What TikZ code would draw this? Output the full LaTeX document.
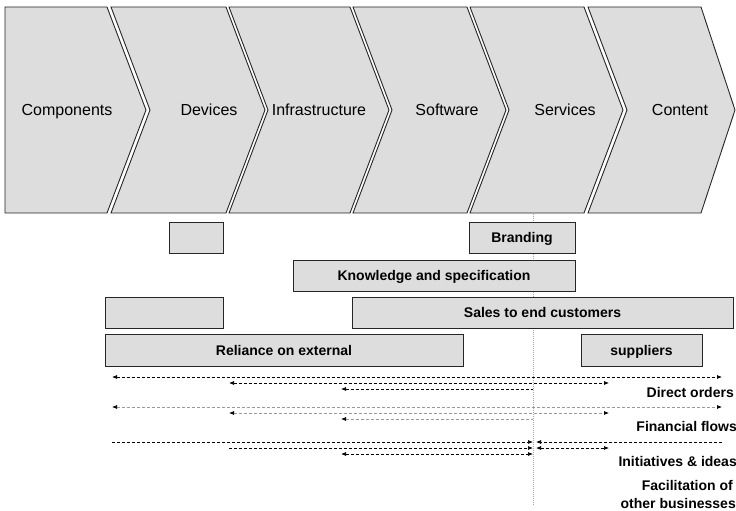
\documentclass[tikz,border=0pt]{standalone}
\usepackage{fontspec}
\setmainfont{Liberation Sans}
\usetikzlibrary{arrows.meta}
\definecolor{panel}{HTML}{DDDDDD}
\begin{document}
\begin{tikzpicture}[x=1pt,y=-1pt,
  chev/.style={fill=panel,draw=black!85,line width=0.9pt,line join=miter},
  chevtext/.style={font=\fontsize{16}{19}\selectfont,anchor=base,inner sep=0pt},
  bar/.style={fill=panel,draw=black!85,line width=1pt,
    font=\bfseries\fontsize{14}{17}\selectfont,
    text height=10pt,text depth=0pt,inner sep=0pt},
  flow/.style={line width=0.7pt,dash pattern=on 3pt off 2pt},
  lbl/.style={font=\bfseries\fontsize{14}{17}\selectfont,anchor=base east,inner sep=0pt},
  >={Latex[length=5pt,width=4pt,color=black]}
]
\useasboundingbox (0,0) rectangle (736,511);

% value chain chevrons
\draw[chev] (5,7) -- (107,7) -- (146,110) -- (107,213) -- (5,213) -- cycle;
\foreach \l/\r/\d in {111/226/39, 229/350/39, 353/467/39, 470/584/39, 588/701/34}
  \draw[chev] (\l,7) -- (\r,7) -- (\r+\d,110) -- (\r,213) -- (\l,213) -- (\l+39,110) -- cycle;

\node[chevtext] (comp)  at (67,115)  {Components};
\node[chevtext] (dev)   at (209,115) {Devices};
\node[chevtext] (infra) at (319,115) {Infrastructure};
\node[chevtext] (soft)  at (447,115) {Software};
\node[chevtext] (serv)  at (565,115) {Services};
\node[chevtext] (cont)  at (680,115) {Content};

% divider below the services stage
\coordinate (vtop) at (533.5,214);
\coordinate (vbot) at (533.5,506);
\draw[gray!70,line width=0.8pt,dash pattern=on 1pt off 1pt] (vtop) -- (vbot);

% activity bars
\node[bar,minimum width=54pt,minimum height=31pt]  (bdev)  at (196,237.5) {};
\node[bar,minimum width=106pt,minimum height=31pt] (brand) at (522,237.5) {Branding};
\node[bar,minimum width=282pt,minimum height=31pt] (know)  at (434,275.5) {Knowledge and specification};
\node[bar,minimum width=118pt,minimum height=31pt] (bleft) at (164,312.5) {};
\node[bar,minimum width=381pt,minimum height=31pt] (sales) at (542.5,312.5) {Sales to end customers};
\node[bar,minimum width=358pt,minimum height=32pt] (rel)   at (284,350) {Reliance on external};
\node[bar,minimum width=121pt,minimum height=32pt] (supp)  at (641.5,350) {suppliers};

% columns and rows of the flow arrows
\coordinate (cA) at (112,0);
\coordinate (cB) at (229,0);
\coordinate (cC) at (341,0);
\coordinate (cM) at (533,0);
\coordinate (cN) at (536,0);
\coordinate (cD) at (609,0);
\coordinate (cE) at (722,0);
\coordinate (r11) at (0,377);
\coordinate (r12) at (0,383);
\coordinate (r13) at (0,389);
\coordinate (r21) at (0,407);
\coordinate (r22) at (0,413);
\coordinate (r23) at (0,419);
\coordinate (r31) at (0,442);
\coordinate (r32) at (0,448);
\coordinate (r33) at (0,454);

% direct orders
\draw[flow,<->] (cA|-r11) -- (cE|-r11);
\draw[flow,<->] (cB|-r12) -- (cD|-r12);
\draw[flow,<-]  (cC|-r13) -- (cM|-r13);
% financial flows
\draw[flow,gray!80,<->] (cA|-r21) -- (cE|-r21);
\draw[flow,gray!80,<->] (cB|-r22) -- (cD|-r22);
\draw[flow,gray!80,<-]  (cC|-r23) -- (cM|-r23);
% initiatives and ideas
\draw[flow,->]  (cA|-r31) -- (cM|-r31);
\draw[flow,->]  (cE|-r31) -- (cN|-r31);
\draw[flow,->]  (cB|-r32) -- (cM|-r32);
\draw[flow,<->] (cN|-r32) -- (cD|-r32);
\draw[flow,<->] (cC|-r33) -- (cM|-r33);

% flow labels
\node[lbl] (ldir)  at (734,397) {Direct orders};
\node[lbl] (lfin)  at (737,431) {Financial flows};
\node[lbl] (lini)  at (737,466) {Initiatives \& ideas};
\node[lbl] (lfac1) at (733,490) {Facilitation of};
\node[lbl] (lfac2) at (736,508) {other businesses};
\end{tikzpicture}
\end{document}
